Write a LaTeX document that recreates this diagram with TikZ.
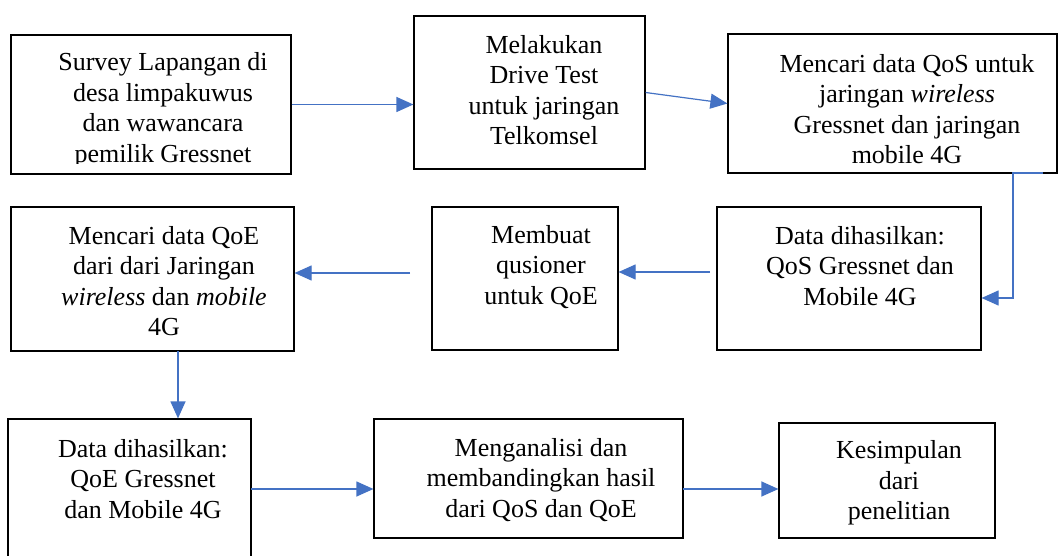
\documentclass[tikz,border=0pt]{standalone}
\usepackage{fontspec}
\setmainfont{Liberation Serif}
\usetikzlibrary{arrows.meta}
\definecolor{arrblue}{HTML}{4472C4}
\tikzset{
  box/.style={draw=black, line width=1.2pt, inner sep=0pt, rectangle},
  txt/.style={align=center, inner sep=0pt, font=\fontsize{26}{30.5}\selectfont},
  conn/.style={draw=arrblue, line width=1.2pt, -{Triangle[length=17pt,width=15pt]}}
}
\begin{document}
\begin{tikzpicture}[x=1pt,y=-1pt]
\useasboundingbox (0,0) rectangle (1058,556);
\clip (0,0) rectangle (1058,556);
\fill[white] (0,0) rectangle (1058,556);
% boxes
\node[box, minimum width=280pt, minimum height=139pt] (b1) at (151,104.5) {};
\node[box, minimum width=231pt, minimum height=153pt] (b2) at (529.5,92.5) {};
\node[box, minimum width=329pt, minimum height=139pt] (b3) at (892.5,103.5) {};
\node[box, minimum width=264pt, minimum height=143pt] (b4) at (849,278.5) {};
\node[box, minimum width=186pt, minimum height=143pt] (b5) at (525,278.5) {};
\node[box, minimum width=283pt, minimum height=144pt] (b6) at (152.5,279) {};
\node[box, minimum width=243pt, minimum height=151pt] (b7) at (129.5,494.5) {};
\node[box, minimum width=309pt, minimum height=119pt] (b8) at (528.5,478.5) {};
\node[box, minimum width=216pt, minimum height=115pt] (b9) at (887,480.5) {};
% texts
\begin{scope}
\clip (11,35) rectangle (291,164);
\node[txt] (t1) at (163,110) {Survey Lapangan di\\desa limpakuwus\\dan wawancara\\pemilik Gressnet};
\end{scope}
\node[txt] (t2) at (544,90) {Melakukan\\Drive Test\\untuk jaringan\\Telkomsel};
\node[txt] (t3) at (907,109) {Mencari data QoS untuk\\jaringan \textit{wireless}\\Gressnet dan jaringan\\mobile 4G};
\node[txt] (t4) at (860,266) {Data dihasilkan:\\QoS Gressnet dan\\Mobile 4G};
\node[txt] (t5) at (541,267) {Membuat\\qusioner\\untuk QoE};
\node[txt] (t6) at (164,281) {Mencari data QoE\\dari dari Jaringan\\\textit{wireless} dan \textit{mobile}\\4G};
\node[txt] (t7) at (143,479) {Data dihasilkan:\\QoE Gressnet\\dan Mobile 4G};
\node[txt] (t8) at (541,480) {Menganalisi dan\\membandingkan hasil\\dari QoS dan QoE};
\node[txt] (t9) at (899,483) {Kesimpulan\\dari\\penelitian};
% connector coordinates
\coordinate (c3) at (1043,173);
\coordinate (c4) at (1013,298);
\coordinate (s4) at (710,272);
\coordinate (s5) at (410,273);
\coordinate (s6) at (178,351);
\coordinate (s7) at (251,489);
\coordinate (s8) at (683,489);
% connectors
\draw[conn] (b1.east) -- (b1.east -| b2.west);
\draw[conn] (b2.east) -- (b3.west);
\draw[conn] (c3) -| (c4) -- (c4 -| b4.east);
\draw[conn] (s4) -- (s4 -| b5.east);
\draw[conn] (s5) -- (s5 -| b6.east);
\draw[conn] (s6) -- (s6 |- b7.north);
\draw[conn] (s7) -- (s7 -| b8.west);
\draw[conn] (s8) -- (s8 -| b9.west);
\end{tikzpicture}
\end{document}
